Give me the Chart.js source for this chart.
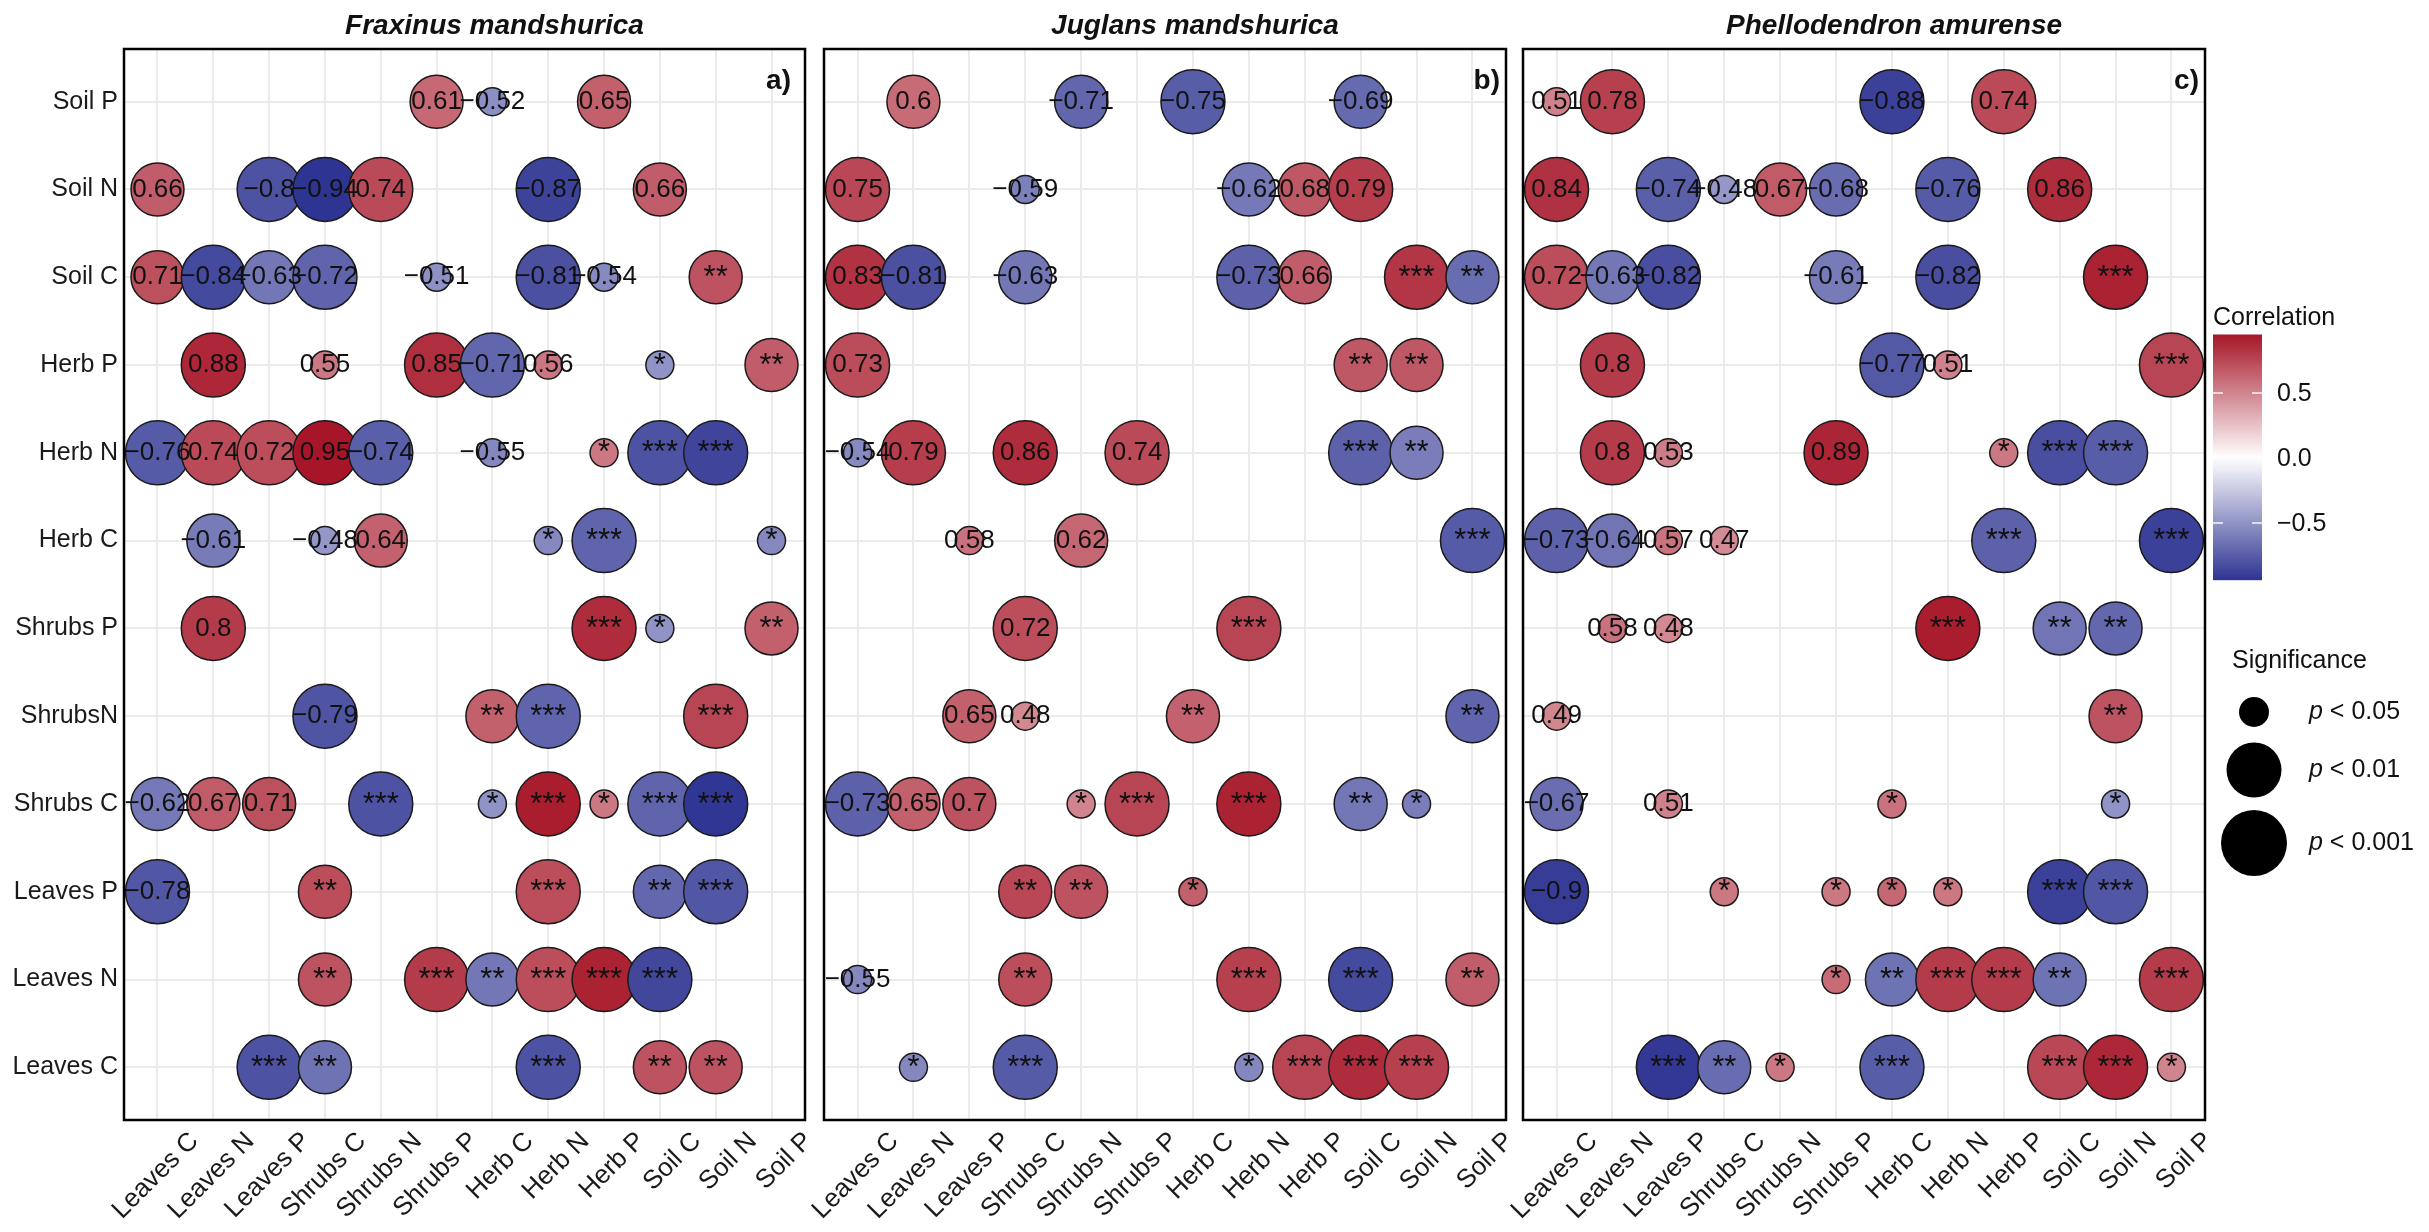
<!DOCTYPE html>
<html>
<head>
<meta charset="utf-8">
<script src="https://cdn.jsdelivr.net/npm/chart.js@4.4.1/dist/chart.umd.min.js"></script>
<style>
body { margin: 0; background: #fff; width: 2429px; height: 1232px; position: relative; overflow: hidden; }
canvas { position: absolute; top: 0; }
</style>
</head>
<body>
<canvas id="panelA" width="808" height="1232" style="left:0px"></canvas>
<canvas id="panelB" width="739" height="1232" style="left:770px"></canvas>
<canvas id="panelC" width="959" height="1232" style="left:1470px"></canvas>
<script>
var xLabels = ["Leaves C","Leaves N","Leaves P","Shrubs C","Shrubs N","Shrubs P","Herb C","Herb N","Herb P","Soil C","Soil N","Soil P"];
var yLabels = ["Leaves C","Leaves N","Leaves P","Shrubs C","ShrubsN","Shrubs P","Herb C","Herb N","Herb P","Soil C","Soil N","Soil P"];
var panelTitles = ["Fraxinus mandshurica","Juglans mandshurica","Phellodendron amurense"];
var panelTags = ["a)","b)","c)"];
var corRange = [-0.94, 0.95];
var corTicks = [0.5, 0.0, -0.5];
var corTickLabels = ["0.5","0.0","\u22120.5"];
var sigLabels = ["< 0.05","< 0.01","< 0.001"];

// [row, column, r, significance level (1-3), 1 = print r / 0 = print stars]
var fraxinusCells = [
  ["Soil P","Shrubs P",0.61,2,1],["Soil P","Herb C",-0.52,1,1],["Soil P","Herb P",0.65,2,1],
  ["Soil N","Leaves C",0.66,2,1],["Soil N","Leaves P",-0.8,3,1],["Soil N","Shrubs C",-0.94,3,1],["Soil N","Shrubs N",0.74,3,1],["Soil N","Herb N",-0.87,3,1],["Soil N","Soil C",0.66,2,1],
  ["Soil C","Leaves C",0.71,2,1],["Soil C","Leaves N",-0.84,3,1],["Soil C","Leaves P",-0.63,2,1],["Soil C","Shrubs C",-0.72,3,1],["Soil C","Shrubs P",-0.51,1,1],["Soil C","Herb N",-0.81,3,1],["Soil C","Herb P",-0.54,1,1],["Soil C","Soil N",0.70,2,0],
  ["Herb P","Leaves N",0.88,3,1],["Herb P","Shrubs C",0.55,1,1],["Herb P","Shrubs P",0.85,3,1],["Herb P","Herb C",-0.71,3,1],["Herb P","Herb N",0.56,1,1],["Herb P","Soil C",-0.5,1,0],["Herb P","Soil P",0.66,2,0],
  ["Herb N","Leaves C",-0.76,3,1],["Herb N","Leaves N",0.74,3,1],["Herb N","Leaves P",0.72,3,1],["Herb N","Shrubs C",0.95,3,1],["Herb N","Shrubs N",-0.74,3,1],["Herb N","Herb C",-0.55,1,1],["Herb N","Herb P",0.55,1,0],["Herb N","Soil C",-0.8,3,0],["Herb N","Soil N",-0.86,3,0],
  ["Herb C","Leaves N",-0.61,2,1],["Herb C","Shrubs C",-0.48,1,1],["Herb C","Shrubs N",0.64,2,1],["Herb C","Herb N",-0.55,1,0],["Herb C","Herb P",-0.72,3,0],["Herb C","Soil P",-0.55,1,0],
  ["Shrubs P","Leaves N",0.8,3,1],["Shrubs P","Herb P",0.86,3,0],["Shrubs P","Soil C",-0.5,1,0],["Shrubs P","Soil P",0.65,2,0],
  ["ShrubsN","Shrubs C",-0.79,3,1],["ShrubsN","Herb C",0.65,2,0],["ShrubsN","Herb N",-0.72,3,0],["ShrubsN","Soil N",0.76,3,0],
  ["Shrubs C","Leaves C",-0.62,2,1],["Shrubs C","Leaves N",0.67,2,1],["Shrubs C","Leaves P",0.71,2,1],["Shrubs C","Shrubs N",-0.8,3,0],["Shrubs C","Herb C",-0.5,1,0],["Shrubs C","Herb N",0.92,3,0],["Shrubs C","Herb P",0.55,1,0],["Shrubs C","Soil C",-0.72,3,0],["Shrubs C","Soil N",-0.93,3,0],
  ["Leaves P","Leaves C",-0.78,3,1],["Leaves P","Shrubs C",0.72,2,0],["Leaves P","Herb N",0.72,3,0],["Leaves P","Soil C",-0.7,2,0],["Leaves P","Soil N",-0.78,3,0],
  ["Leaves N","Shrubs C",0.7,2,0],["Leaves N","Shrubs P",0.8,3,0],["Leaves N","Herb C",-0.63,2,0],["Leaves N","Herb N",0.72,3,0],["Leaves N","Herb P",0.9,3,0],["Leaves N","Soil C",-0.85,3,0],
  ["Leaves C","Leaves P",-0.8,3,0],["Leaves C","Shrubs C",-0.65,2,0],["Leaves C","Herb N",-0.8,3,0],["Leaves C","Soil C",0.7,2,0],["Leaves C","Soil N",0.7,2,0]
];

var juglansCells = [
  ["Soil P","Leaves N",0.6,2,1],["Soil P","Shrubs N",-0.71,2,1],["Soil P","Herb C",-0.75,3,1],["Soil P","Soil C",-0.69,2,1],
  ["Soil N","Leaves C",0.75,3,1],["Soil N","Shrubs C",-0.59,1,1],["Soil N","Herb N",-0.62,2,1],["Soil N","Herb P",0.68,2,1],["Soil N","Soil C",0.79,3,1],
  ["Soil C","Leaves C",0.83,3,1],["Soil C","Leaves N",-0.81,3,1],["Soil C","Shrubs C",-0.63,2,1],["Soil C","Herb N",-0.73,3,1],["Soil C","Herb P",0.66,2,1],["Soil C","Soil N",0.82,3,0],["Soil C","Soil P",-0.68,2,0],
  ["Herb P","Leaves C",0.73,3,1],["Herb P","Soil C",0.68,2,0],["Herb P","Soil N",0.68,2,0],
  ["Herb N","Leaves C",-0.54,1,1],["Herb N","Leaves N",0.79,3,1],["Herb N","Shrubs C",0.86,3,1],["Herb N","Shrubs P",0.74,3,1],["Herb N","Soil C",-0.73,3,0],["Herb N","Soil N",-0.6,2,0],
  ["Herb C","Leaves P",0.58,1,1],["Herb C","Shrubs N",0.62,2,1],["Herb C","Soil P",-0.76,3,0],
  ["Shrubs P","Shrubs C",0.72,3,1],["Shrubs P","Herb N",0.76,3,0],
  ["ShrubsN","Leaves P",0.65,2,1],["ShrubsN","Shrubs C",0.48,1,1],["ShrubsN","Herb C",0.64,2,0],["ShrubsN","Soil P",-0.72,2,0],
  ["Shrubs C","Leaves C",-0.73,3,1],["Shrubs C","Leaves N",0.65,2,1],["Shrubs C","Leaves P",0.7,2,1],["Shrubs C","Shrubs N",0.5,1,0],["Shrubs C","Shrubs P",0.76,3,0],["Shrubs C","Herb N",0.9,3,0],["Shrubs C","Soil C",-0.63,2,0],["Shrubs C","Soil N",-0.6,1,0],
  ["Leaves P","Shrubs C",0.75,2,0],["Leaves P","Shrubs N",0.7,2,0],["Leaves P","Herb C",0.65,1,0],
  ["Leaves N","Leaves C",-0.55,1,1],["Leaves N","Shrubs C",0.72,2,0],["Leaves N","Herb N",0.78,3,0],["Leaves N","Soil C",-0.84,3,0],["Leaves N","Soil P",0.66,2,0],
  ["Leaves C","Leaves N",-0.55,1,0],["Leaves C","Shrubs C",-0.76,3,0],["Leaves C","Herb N",-0.55,1,0],["Leaves C","Herb P",0.76,3,0],["Leaves C","Soil C",0.86,3,0],["Leaves C","Soil N",0.78,3,0]
];

var phellodendronCells = [
  ["Soil P","Leaves C",0.51,1,1],["Soil P","Leaves N",0.78,3,1],["Soil P","Herb C",-0.88,3,1],["Soil P","Herb P",0.74,3,1],
  ["Soil N","Leaves C",0.84,3,1],["Soil N","Leaves P",-0.74,3,1],["Soil N","Shrubs C",-0.48,1,1],["Soil N","Shrubs N",0.67,2,1],["Soil N","Shrubs P",-0.68,2,1],["Soil N","Herb N",-0.76,3,1],["Soil N","Soil C",0.86,3,1],
  ["Soil C","Leaves C",0.72,3,1],["Soil C","Leaves N",-0.63,2,1],["Soil C","Leaves P",-0.82,3,1],["Soil C","Shrubs P",-0.61,2,1],["Soil C","Herb N",-0.82,3,1],["Soil C","Soil N",0.9,3,0],
  ["Herb P","Leaves N",0.8,3,1],["Herb P","Herb C",-0.77,3,1],["Herb P","Herb N",0.51,1,1],["Herb P","Soil P",0.76,3,0],
  ["Herb N","Leaves N",0.8,3,1],["Herb N","Leaves P",0.53,1,1],["Herb N","Shrubs P",0.89,3,1],["Herb N","Herb P",0.55,1,0],["Herb N","Soil C",-0.82,3,0],["Herb N","Soil N",-0.75,3,0],
  ["Herb C","Leaves C",-0.73,3,1],["Herb C","Leaves N",-0.64,2,1],["Herb C","Leaves P",0.57,1,1],["Herb C","Shrubs C",0.47,1,1],["Herb C","Herb P",-0.73,3,0],["Herb C","Soil P",-0.88,3,0],
  ["Shrubs P","Leaves N",0.58,1,1],["Shrubs P","Leaves P",0.48,1,1],["Shrubs P","Herb N",0.92,3,0],["Shrubs P","Soil C",-0.64,2,0],["Shrubs P","Soil N",-0.7,2,0],
  ["ShrubsN","Leaves C",0.49,1,1],["ShrubsN","Soil N",0.7,2,0],
  ["Shrubs C","Leaves C",-0.67,2,1],["Shrubs C","Leaves P",0.51,1,1],["Shrubs C","Herb C",0.58,1,0],["Shrubs C","Soil N",-0.5,1,0],
  ["Leaves P","Leaves C",-0.9,3,1],["Leaves P","Shrubs C",0.55,1,0],["Leaves P","Shrubs P",0.55,1,0],["Leaves P","Herb C",0.62,1,0],["Leaves P","Herb N",0.55,1,0],["Leaves P","Soil C",-0.88,3,0],["Leaves P","Soil N",-0.78,3,0],
  ["Leaves N","Shrubs P",0.6,1,0],["Leaves N","Herb C",-0.65,2,0],["Leaves N","Herb N",0.8,3,0],["Leaves N","Herb P",0.8,3,0],["Leaves N","Soil C",-0.65,2,0],["Leaves N","Soil P",0.8,3,0],
  ["Leaves C","Leaves P",-0.92,3,0],["Leaves C","Shrubs C",-0.68,2,0],["Leaves C","Shrubs N",0.55,1,0],["Leaves C","Herb C",-0.75,3,0],["Leaves C","Soil C",0.75,3,0],["Leaves C","Soil N",0.88,3,0],["Leaves C","Soil P",0.5,1,0]
];

var bubbleSizes = [14, 26.5, 32];
var fontFamily = '"Liberation Sans", Arial, Helvetica, sans-serif';
Chart.defaults.font.family = fontFamily;

function fillFor(r) {
  var high = [166, 22, 40], low = [46, 52, 146];
  var end = r < 0 ? low : high;
  var t = Math.min(1, Math.abs(r) / (r < 0 ? -corRange[0] : corRange[1]));
  var c = end.map(function (v) { return Math.round(255 + (v - 255) * t); });
  return 'rgb(' + c.join(',') + ')';
}

function fmt(r) {
  return String(r).replace('-', '\u2212');
}

var panelDecor = {
  id: 'panelDecor',
  afterDatasetsDraw: function (chart) {
    var ctx = chart.ctx, a = chart.chartArea;
    var o = chart.options.plugins.panelDecor;
    var meta = chart.getDatasetMeta(0);
    var pts = chart.data.datasets[0].data;

    ctx.save();
    ctx.beginPath();
    ctx.rect(a.left, a.top, a.right - a.left, a.bottom - a.top);
    ctx.clip();
    ctx.fillStyle = '#111';
    ctx.textAlign = 'center';
    ctx.textBaseline = 'middle';
    meta.data.forEach(function (el, i) {
      var stars = pts[i].label.charAt(0) === '*';
      ctx.font = (stars ? '31px ' : '26px ') + fontFamily;
      ctx.fillText(pts[i].label, el.x, el.y + (stars ? 1 : 0));
    });
    ctx.restore();

    ctx.save();
    ctx.strokeStyle = '#000';
    ctx.lineWidth = 2.5;
    ctx.strokeRect(a.left, a.top, a.right - a.left, a.bottom - a.top);
    ctx.fillStyle = '#111';
    ctx.textBaseline = 'alphabetic';
    ctx.textAlign = 'center';
    ctx.font = 'italic bold 28px ' + fontFamily;
    ctx.fillText(o.title, (a.left + a.right) / 2 + 30, 34);
    ctx.textAlign = 'right';
    ctx.font = 'bold 28px ' + fontFamily;
    ctx.fillText(o.tag, a.right - o.tagInset, 89);
    ctx.restore();

    if (o.legend) drawLegend(ctx, a.right);
  }
};

function drawLegend(ctx, x0) {
  var barL = x0 + 8, barW = 49, zeroY = 458, perUnit = 130;
  var yFor = function (v) { return zeroY - v * perUnit; };
  var top = yFor(corRange[1]), bottom = yFor(corRange[0]);
  ctx.save();
  ctx.fillStyle = '#111';
  ctx.font = '25px ' + fontFamily;
  ctx.textAlign = 'left';
  ctx.textBaseline = 'alphabetic';
  ctx.fillText('Correlation', barL, 325);

  var grad = ctx.createLinearGradient(0, top, 0, bottom);
  for (var k = 0; k <= 20; k++) {
    var v = corRange[1] + (corRange[0] - corRange[1]) * k / 20;
    grad.addColorStop(k / 20, fillFor(v));
  }
  ctx.fillStyle = grad;
  ctx.fillRect(barL, top, barW, bottom - top);

  ctx.strokeStyle = 'rgba(255,255,255,0.9)';
  ctx.lineWidth = 1.5;
  ctx.fillStyle = '#111';
  ctx.textBaseline = 'middle';
  corTicks.forEach(function (v, i) {
    var y = yFor(v);
    ctx.beginPath();
    ctx.moveTo(barL, y); ctx.lineTo(barL + 10, y);
    ctx.moveTo(barL + barW - 10, y); ctx.lineTo(barL + barW, y);
    ctx.stroke();
    ctx.fillText(corTickLabels[i], barL + 64, y + 1);
  });

  ctx.textBaseline = 'alphabetic';
  ctx.fillText('Significance', x0 + 27, 668);
  var cy = [712, 770, 843];
  sigLabels.forEach(function (lab, i) {
    ctx.fillStyle = '#000';
    ctx.beginPath();
    ctx.arc(x0 + 49, cy[i], bubbleSizes[i] + 1, 0, Math.PI * 2);
    ctx.fill();
    ctx.fillStyle = '#111';
    ctx.textBaseline = 'middle';
    ctx.font = 'italic 25px ' + fontFamily;
    ctx.fillText('p', x0 + 104, cy[i]);
    var w = ctx.measureText('p ').width;
    ctx.font = '25px ' + fontFamily;
    ctx.fillText(lab, x0 + 104 + w, cy[i]);
  });
  ctx.restore();
}

function makePanel(id, idx, cells, opts) {
  var sorted = cells.slice().sort(function (p, q) {
    return xLabels.indexOf(p[1]) - xLabels.indexOf(q[1]);
  });
  var points = sorted.map(function (c) {
    return {
      x: xLabels.indexOf(c[1]),
      y: yLabels.indexOf(c[0]),
      r: bubbleSizes[c[3] - 1],
      cor: c[2],
      label: c[4] ? fmt(c[2]) : '***'.slice(0, c[3])
    };
  });
  return new Chart(document.getElementById(id), {
    type: 'bubble',
    data: {
      datasets: [{
        data: points,
        backgroundColor: points.map(function (p) { return fillFor(p.cor); }),
        borderColor: '#1a1a1a',
        borderWidth: 1.5,
        hoverRadius: 0,
        clip: 0
      }]
    },
    options: {
      responsive: false,
      animation: false,
      events: [],
      layout: { autoPadding: false, padding: { top: 49, left: opts.padL, right: opts.padR, bottom: 0 } },
      plugins: {
        legend: { display: false },
        tooltip: { enabled: false },
        panelDecor: { title: panelTitles[idx], tag: panelTags[idx], tagInset: opts.tagInset, legend: opts.legend }
      },
      scales: {
        x: {
          type: 'linear', min: -0.6, max: 11.6,
          afterBuildTicks: function (s) { s.ticks = xLabels.map(function (t, i) { return { value: i }; }); },
          afterFit: function (s) { s.height = 112; },
          grid: { color: '#ebebeb', lineWidth: 2, drawTicks: false },
          border: { display: false },
          ticks: {
            autoSkip: false, minRotation: 45, maxRotation: 45, padding: 6, labelOffset: 37,
            font: { size: 26, family: fontFamily }, color: '#1a1a1a',
            callback: function (v) { return xLabels[v]; }
          }
        },
        y: {
          type: 'linear', min: -0.6, max: 11.6,
          afterBuildTicks: function (s) { s.ticks = yLabels.map(function (t, i) { return { value: i }; }); },
          afterFit: function (s) { s.width = opts.yWidth; },
          grid: { color: '#ebebeb', lineWidth: 2, drawTicks: false },
          border: { display: false },
          ticks: {
            display: opts.showY, padding: 6,
            font: { size: 25, family: fontFamily }, color: '#1a1a1a',
            callback: function (v) { return yLabels[v]; }
          }
        }
      }
    },
    plugins: [panelDecor]
  });
}

makePanel('panelA', 0, fraxinusCells, { padL: 0, padR: 3, yWidth: 124, showY: true, tagInset: 14, legend: false });
makePanel('panelB', 1, juglansCells, { padL: 54, padR: 3, yWidth: 0, showY: false, tagInset: 6, legend: false });
makePanel('panelC', 2, phellodendronCells, { padL: 53, padR: 224, yWidth: 0, showY: false, tagInset: 6, legend: true });
</script>
</body>
</html>
